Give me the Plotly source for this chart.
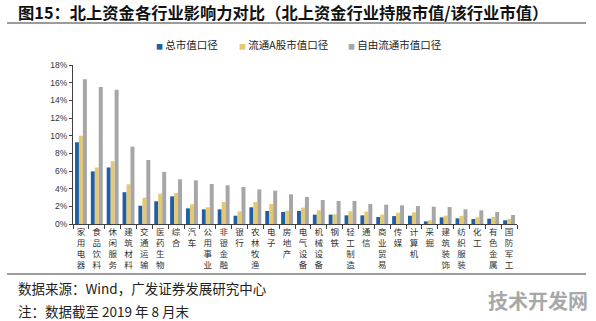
import plotly.graph_objects as go

categories = ["家用电器", "食品饮料", "休闲服务", "建筑材料", "交通运输", "医药生物", "综合", "汽车",
              "公用事业", "非银金融", "银行", "农林牧渔", "电子", "房地产", "电气设备", "机械设备",
              "钢铁", "轻工制造", "通信", "商业贸易", "传媒", "计算机", "采掘", "建筑装饰",
              "纺织服装", "化工", "有色金属", "国防军工"]
total_mv = [9.25, 5.96, 6.4, 3.6, 2.07, 2.57, 3.13, 1.77, 1.66, 1.66, 0.94, 1.89, 1.47, 1.36,
            1.47, 1.06, 1.06, 0.98, 0.98, 0.79, 0.9, 0.94, 0.3, 0.75, 0.64, 0.57, 0.6, 0.42]
float_a_mv = [10.0, 6.4, 7.1, 4.5, 2.98, 3.43, 3.5, 2.23, 1.89, 2.49, 1.43, 2.49, 2.26, 1.51,
              1.85, 1.55, 1.09, 1.43, 1.4, 1.06, 1.28, 1.32, 0.42, 0.94, 0.9, 0.75, 0.79, 0.57]
free_float_mv = [16.4, 15.5, 15.2, 8.75, 7.25, 5.9, 5.06, 4.94, 4.53, 4.38, 4.19, 3.92, 3.77, 3.36,
                 3.06, 2.72, 2.6, 2.6, 2.26, 2.19, 2.11, 2.04, 1.96, 1.92, 1.66, 1.55, 1.36, 1.02]
series_names = ["总市值口径", "流通A股市值口径", "自由流通市值口径"]
colors = ["#1f5fa5", "#e6c86e", "#a6a6a6"]
y_ticks = [0, 2, 4, 6, 8, 10, 12, 14, 16, 18]

W, H = 596, 321
L, R, T, B = 73, 79, 65, 97
pw, ph = W - L - R, H - T - B

def px(x):
    return (x - L) / pw

def py(y):
    return (H - B - y) / ph

cjk = "Noto Sans CJK SC"
tick_text = ["<br>".join(list(c)) for c in categories]

fig = go.Figure()
for name, vals, col in zip(series_names, [total_mv, float_a_mv, free_float_mv], colors):
    fig.add_trace(go.Bar(x=categories, y=vals, name=name, marker_color=col,
                         marker_line_width=0, showlegend=False))

fig.update_layout(
    width=W, height=H,
    margin=dict(l=L, r=R, t=T, b=B, autoexpand=False),
    paper_bgcolor="white", plot_bgcolor="white",
    barmode="group", bargap=0.25, bargroupgap=0,
    xaxis=dict(type="category", tickmode="array", tickvals=categories, ticktext=tick_text,
               tickson="boundaries", ticks="outside", ticklen=4, tickcolor="#404040",
               showline=True, linecolor="#404040", linewidth=1, showgrid=False,
               tickfont=dict(family=cjk, size=8.5, color="#333333"), tickangle=0),
    yaxis=dict(range=[0, 18], tickmode="array", tickvals=y_ticks,
               ticktext=[f"{v}%" for v in y_ticks], ticks="outside", ticklen=3,
               tickcolor="#404040", showline=True, linecolor="#404040", linewidth=1,
               showgrid=False, zeroline=False,
               tickfont=dict(family="Liberation Sans, Arial", size=8.5, color="#333333")),
)

# title
fig.add_annotation(xref="paper", yref="paper", x=px(16), y=py(12), xanchor="left",
                   yanchor="middle", showarrow=False,
                   text="<b>图15：北上资金各行业影响力对比（北上资金行业持股市值/该行业市值）</b>",
                   font=dict(family=cjk, size=16.3, color="#111111"))

# legend entries
leg_x = [154, 237, 346]
for name, col, lx in zip(series_names, colors, leg_x):
    fig.add_annotation(xref="paper", yref="paper", x=px(lx), y=py(44), xanchor="left",
                       yanchor="middle", showarrow=False,
                       text=f'<span style="color:{col};font-size:7px">■</span> {name}',
                       font=dict(family=cjk, size=10.5, color="#222222"))

# separator lines
for yy in [23, 274]:
    fig.add_shape(type="line", xref="paper", yref="paper", x0=px(7), x1=px(586),
                  y0=py(yy), y1=py(yy), line=dict(color="#7a7a7a", width=1.5))

# footer
fig.add_annotation(xref="paper", yref="paper", x=px(16), y=py(288), xanchor="left",
                   yanchor="middle", showarrow=False, text="数据来源：Wind，广发证券发展研究中心",
                   font=dict(family=cjk, size=13.5, color="#222222"))
fig.add_annotation(xref="paper", yref="paper", x=px(16), y=py(311), xanchor="left",
                   yanchor="middle", showarrow=False, text="注：数据截至 2019 年 8 月末",
                   font=dict(family=cjk, size=13.5, color="#222222"))
fig.add_annotation(xref="paper", yref="paper", x=px(590), y=py(300), xanchor="right",
                   yanchor="middle", showarrow=False, text="<b>技术开发网</b>",
                   font=dict(family=cjk, size=20, color="#a8a8a8"))

fig.write_html("out.html")
